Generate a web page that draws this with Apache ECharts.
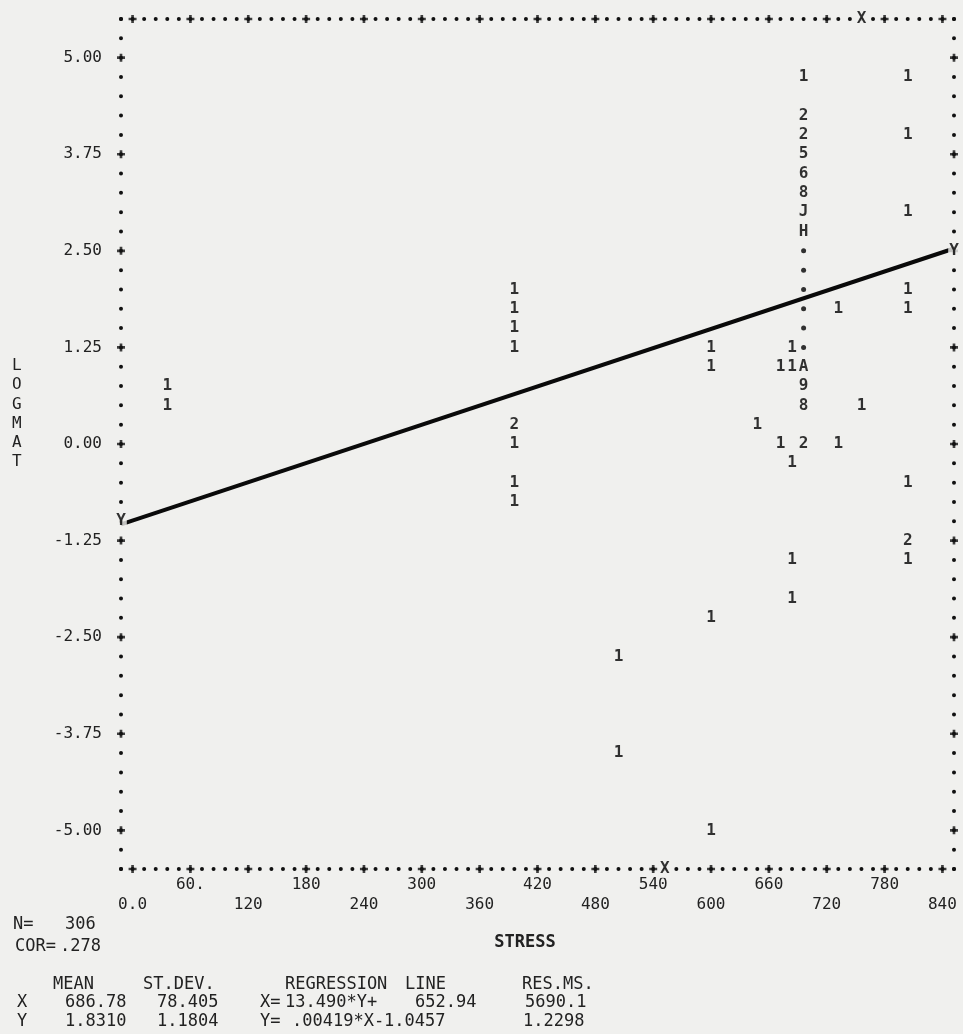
<!DOCTYPE html>
<html>
<head>
<meta charset="utf-8">
<script src="https://cdn.jsdelivr.net/npm/echarts@6/dist/echarts.min.js"></script>
<style>
html,body{margin:0;padding:0;background:#f0f0ee;}
#chart{width:963px;height:1034px;}
</style>
</head>
<body>
<div id="chart"></div>
<script>
// ---- axis ticks / labels ----
const xTickValues = [0, 60, 120, 180, 240, 300, 360, 420, 480, 540, 600, 660, 720, 780, 840];
const xTickLabels = ['0.0', '60.', '120', '180', '240', '300', '360', '420', '480', '540', '600', '660', '720', '780', '840'];
const yTickValues = [-5, -3.75, -2.5, -1.25, 0, 1.25, 2.5, 3.75, 5];
const yTickLabels = ['-5.00', '-3.75', '-2.50', '-1.25', '0.00', '1.25', '2.50', '3.75', '5.00'];

// ---- frame extent (one print cell outside the labelled range) ----
const xFrame = [-12, 852];
const yFrame = [-5.5, 5.5];

// ---- plotted cells: STRESS (x), LOGMAT (y), printed count symbol ----
const pointX = [36, 36, 396, 396, 396, 396, 396, 396, 396, 396, 504, 504, 600, 600, 600, 600, 648, 672, 672,
  684, 684, 684, 684, 684, 696, 696, 696, 696, 696, 696, 696, 696, 696, 696, 696, 696, 696, 696, 696, 696, 696, 696,
  732, 732, 756, 804, 804, 804, 804, 804, 804, 804, 804];
const pointY = [0.75, 0.5, 2.0, 1.75, 1.5, 1.25, 0.25, 0.0, -0.5, -0.75, -2.75, -4.0, 1.25, 1.0, -2.25, -5.0, 0.25, 1.0, 0.0,
  1.25, 1.0, -0.25, -1.5, -2.0, 4.75, 4.25, 4.0, 3.75, 3.5, 3.25, 3.0, 2.75, 2.5, 2.25, 2.0, 1.75, 1.5, 1.25, 1.0, 0.75, 0.5, 0.0,
  1.75, 0.0, 0.5, 4.75, 4.0, 3.0, 2.0, 1.75, -0.5, -1.25, -1.5];
const pointChar = ['1', '1', '1', '1', '1', '1', '2', '1', '1', '1', '1', '1', '1', '1', '1', '1', '1', '1', '1',
  '1', '1', '1', '1', '1', '1', '2', '2', '5', '6', '8', 'J', 'H', '*', '*', '*', '*', '*', '*', 'A', '9', '8', '2',
  '1', '1', '1', '1', '1', '1', '1', '1', '1', '2', '1'];

// ---- hand-drawn regression line (end points) ----
const lineX = [-12, 852];
const lineY = [-1.04, 2.53];

// ---- regression markers printed on the frame ----
const markerX = [-12, 852, 756, 552];
const markerY = [-1.0, 2.5, 5.5, -5.5];
const markerChar = ['Y', 'Y', 'X', 'X'];

// ---- layout ----
const BG = '#f0f0ee';
const MONO = '"DejaVu Sans Mono", "Liberation Mono", monospace';
const G = {left: 121, top: 19, width: 833, height: 850};
const colsX = (xFrame[1] - xFrame[0]) / 12;      // print columns
const rowsY = (yFrame[1] - yFrame[0]) / 0.25;    // print rows

const dotStyleX = {color: '#111', width: 4, cap: 'round', type: [0.01, G.width / colsX - 0.01]};
const dotStyleY = {color: '#111', width: 4, cap: 'round', type: [0.01, G.height / rowsY - 0.01]};

function xLabel(v) {
  const i = xTickValues.indexOf(v);
  if (i < 0) return '';
  return i % 2 === 0 ? '\n' + xTickLabels[i] : xTickLabels[i];
}
function yLabel(v) {
  for (let i = 0; i < yTickValues.length; i++) {
    if (Math.abs(yTickValues[i] - v) < 1e-9) return yTickLabels[i];
  }
  return '';
}

const plainCells = [], starCells = [];
pointX.forEach((x, i) => {
  const d = {value: [x, pointY[i]], ch: pointChar[i]};
  if (pointChar[i] === '*') starCells.push(d); else plainCells.push(d);
});

const frameTicks = [];
xTickValues.forEach(v => { frameTicks.push([v, yFrame[1]]); frameTicks.push([v, yFrame[0]]); });
yTickValues.forEach(v => { frameTicks.push([xFrame[0], v]); frameTicks.push([xFrame[1], v]); });

const markers = markerX.map((x, i) => ({value: [x, markerY[i]], ch: markerChar[i]}));

const plusPath = 'path://M-1,-3L1,-3L1,-1L3,-1L3,1L1,1L1,3L-1,3L-1,1L-3,1L-3,-1L-1,-1Z';

function txt(text, x, y, opts) {
  return {
    type: 'text', x: x, y: y, silent: true,
    style: Object.assign({text: text, fill: '#222', font: '17px ' + MONO, verticalAlign: 'middle', align: 'left'}, opts || {})
  };
}

const chart = echarts.init(document.getElementById('chart'), null, {renderer: 'canvas'});
chart.setOption({
  backgroundColor: BG,
  animation: false,
  grid: {left: G.left, top: G.top, width: G.width, height: G.height, containLabel: false},
  xAxis: [{
    type: 'value', position: 'bottom', min: xFrame[0], max: xFrame[1], interval: 12,
    axisLine: {show: true, onZero: false, lineStyle: dotStyleX},
    axisTick: {show: false}, splitLine: {show: false},
    axisLabel: {show: true, margin: 6, formatter: xLabel, fontFamily: MONO, fontSize: 16, lineHeight: 20, color: '#222', hideOverlap: false}
  }, {
    type: 'value', position: 'top', min: xFrame[0], max: xFrame[1], interval: 12,
    axisLine: {show: true, onZero: false, lineStyle: dotStyleX},
    axisTick: {show: false}, splitLine: {show: false}, axisLabel: {show: false}
  }],
  yAxis: [{
    type: 'value', position: 'left', min: yFrame[0], max: yFrame[1], interval: 0.25,
    axisLine: {show: true, onZero: false, lineStyle: dotStyleY},
    axisTick: {show: false}, splitLine: {show: false},
    axisLabel: {show: true, margin: 19, formatter: yLabel, fontFamily: MONO, fontSize: 16, color: '#222'}
  }, {
    type: 'value', position: 'right', min: yFrame[0], max: yFrame[1], interval: 0.25,
    axisLine: {show: true, onZero: false, lineStyle: dotStyleY},
    axisTick: {show: false}, splitLine: {show: false}, axisLabel: {show: false}
  }],
  series: [
    {
      name: 'frameTicks', type: 'scatter', data: frameTicks, symbol: plusPath, symbolSize: 8,
      itemStyle: {color: '#111'}, clip: false, silent: true, z: 3
    },
    {
      name: 'regression', type: 'line', data: lineX.map((x, i) => [x, lineY[i]]),
      symbol: 'none', lineStyle: {color: '#0a0a0a', width: 4}, clip: false, silent: true, z: 4
    },
    {
      name: 'counts', type: 'scatter', data: plainCells, symbolSize: 1,
      itemStyle: {color: 'rgba(0,0,0,0)'}, clip: false, silent: true, z: 5,
      label: {show: true, position: 'inside', formatter: p => p.data.ch,
        fontFamily: MONO, fontWeight: 'bold', fontSize: 16, color: '#000'}
    },
    {
      name: 'over35', type: 'scatter', data: starCells, symbol: 'circle', symbolSize: 5,
      itemStyle: {color: '#000'}, clip: false, silent: true, z: 5
    },
    {
      name: 'markers', type: 'scatter', data: markers, symbolSize: 1,
      itemStyle: {color: 'rgba(0,0,0,0)'}, clip: false, silent: true, z: 6,
      label: {show: true, position: 'inside', formatter: p => p.data.ch,
        fontFamily: MONO, fontWeight: 'bold', fontSize: 16, color: '#000',
        backgroundColor: BG, padding: [1, 1]}
    }
  ],
  graphic: [
    txt('L\nO\nG\nM\nA\nT', 12, 414, {font: '16px ' + MONO, lineHeight: 19.3}),
    txt('N=', 13, 925), txt('306', 65, 925),
    txt('COR=', 15, 947), txt('.278', 60, 947),
    txt('STRESS', 525, 943, {align: 'center', font: 'bold 17px ' + MONO}),
    txt('MEAN', 53, 985), txt('ST.DEV.', 143, 985), txt('REGRESSION', 285, 985), txt('LINE', 405, 985), txt('RES.MS.', 522, 985),
    txt('X', 17, 1003), txt('686.78', 65, 1003), txt('78.405', 157, 1003),
    txt('X=', 260, 1003), txt('13.490*Y+', 285, 1003), txt('652.94', 415, 1003), txt('5690.1', 525, 1003),
    txt('Y', 17, 1022), txt('1.8310', 65, 1022), txt('1.1804', 157, 1022),
    txt('Y=', 260, 1022), txt('.00419*X-1.0457', 292, 1022), txt('1.2298', 523, 1022)
  ]
});
</script>
</body>
</html>
